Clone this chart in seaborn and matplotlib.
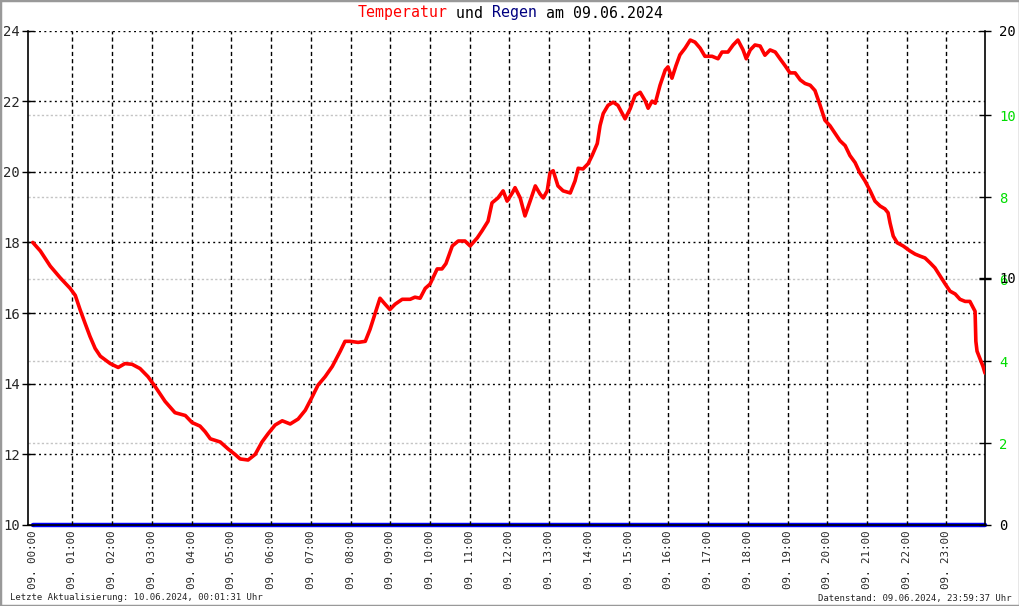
import matplotlib
matplotlib.use("Agg")
import matplotlib.pyplot as plt
from matplotlib.patches import Rectangle
import seaborn as sns
import pandas as pd

# ---------------- data ----------------
hours = [0.00, 0.19, 0.44, 0.69, 0.94, 1.07, 1.19, 1.32, 1.44, 1.57, 1.70, 1.95, 2.15, 2.32,
         2.50, 2.70, 2.90, 3.08, 3.33, 3.58, 3.84, 4.01, 4.21, 4.34, 4.47, 4.72, 4.92, 5.09,
         5.22, 5.42, 5.60, 5.77, 5.92, 6.10, 6.28, 6.48, 6.68, 6.86, 7.03, 7.18, 7.36, 7.54,
         7.74, 7.86, 7.99, 8.19, 8.37, 8.49, 8.62, 8.74, 8.87, 8.99, 9.12, 9.30, 9.50, 9.62,
         9.75, 9.88, 10.00, 10.18, 10.30, 10.40, 10.56, 10.71, 10.88, 11.01, 11.19, 11.31,
         11.46, 11.56, 11.71, 11.84, 11.94, 12.07, 12.14, 12.27, 12.39, 12.52, 12.65, 12.77,
         12.85, 12.95, 13.02, 13.10, 13.22, 13.35, 13.53, 13.65, 13.73, 13.85, 13.98, 14.08,
         14.21, 14.28, 14.36, 14.48, 14.61, 14.73, 14.91, 15.04, 15.16, 15.29, 15.42, 15.49,
         15.59, 15.67, 15.79, 15.92, 15.99, 16.09, 16.19, 16.29, 16.42, 16.55, 16.67, 16.80,
         16.92, 17.10, 17.25, 17.35, 17.50, 17.63, 17.75, 17.88, 17.96, 18.06, 18.18, 18.31,
         18.43, 18.56, 18.69, 18.81, 18.94, 19.06, 19.19, 19.32, 19.44, 19.57, 19.69, 19.82,
         19.94, 20.07, 20.20, 20.32, 20.45, 20.57, 20.70, 20.82, 20.95, 21.08, 21.20, 21.33,
         21.45, 21.53, 21.58, 21.66, 21.76, 21.91, 22.08, 22.21, 22.34, 22.46, 22.59, 22.71,
         22.84, 22.97, 23.09, 23.22, 23.34, 23.47, 23.59, 23.65, 23.72, 23.74, 23.77, 23.84,
         23.92, 23.97]
temperature = [18.0, 17.76, 17.33, 17.0, 16.7, 16.5, 16.1, 15.7, 15.34, 15.0, 14.78, 14.57,
               14.46, 14.57, 14.55, 14.43, 14.2, 13.92, 13.5, 13.18, 13.1, 12.9, 12.8, 12.64,
               12.44, 12.35, 12.15, 12.0, 11.87, 11.84, 12.0, 12.35, 12.58, 12.83, 12.95, 12.86,
               13.0, 13.25, 13.62, 13.96, 14.2, 14.49, 14.92, 15.2, 15.2, 15.17, 15.2, 15.54,
               16.0, 16.42, 16.25, 16.1, 16.25, 16.39, 16.39, 16.45, 16.42, 16.7, 16.82, 17.25,
               17.25, 17.4, 17.9, 18.04, 18.04, 17.9, 18.13, 18.33, 18.6, 19.12, 19.26, 19.46,
               19.17, 19.4, 19.55, 19.26, 18.75, 19.17, 19.6, 19.37, 19.26, 19.46, 19.97, 20.03,
               19.6, 19.46, 19.4, 19.74, 20.1, 20.08, 20.23, 20.46, 20.8, 21.31, 21.65, 21.88,
               21.97, 21.88, 21.5, 21.79, 22.16, 22.25, 22.0, 21.8, 22.0, 21.94, 22.45, 22.88,
               22.97, 22.65, 23.0, 23.31, 23.5, 23.73, 23.67, 23.5, 23.27, 23.27, 23.2, 23.39,
               23.39, 23.59, 23.73, 23.45, 23.2, 23.45, 23.59, 23.56, 23.3, 23.45, 23.39, 23.2,
               23.0, 22.8, 22.8, 22.6, 22.5, 22.45, 22.3, 21.88, 21.46, 21.3, 21.08, 20.88,
               20.74, 20.46, 20.26, 19.97, 19.74, 19.46, 19.17, 19.03, 18.95, 18.84, 18.55,
               18.18, 17.99, 17.9, 17.76, 17.67, 17.61, 17.56, 17.42, 17.28, 17.05, 16.82,
               16.62, 16.54, 16.39, 16.33, 16.33, 16.2, 16.05, 15.2, 14.92, 14.72, 14.49, 14.3]
rain_hours = [0.0, 23.97]
rain = [0.0, 0.0]

hour_ticks = list(range(24))
hour_labels = [f"09. {h:02d}:00" for h in hour_ticks]
temp_ticks = [10, 12, 14, 16, 18, 20, 22, 24]
rain_ticks = [2, 4, 6, 8, 10]
scale_ticks = [0, 10, 20]

title_parts = [("Temperatur", "#ff0000"), (" und ", "#000000"),
               ("Regen", "#000080"), (" am 09.06.2024", "#000000")]
footer_left = "Letzte Aktualisierung: 10.06.2024, 00:01:31 Uhr"
footer_right = "Datenstand: 09.06.2024, 23:59:37 Uhr"

# ---------------- style ----------------
sns.set_style("white")
plt.rcParams["font.family"] = ["DejaVu Sans Mono"]
MONO = "DejaVu Sans Mono"

W, H = 1020, 606
fig = plt.figure(figsize=(W / 100, H / 100), dpi=100)
fig.patch.set_facecolor("white")

ax_l, ax_r, ax_t, ax_b = 28, 985, 30.5, 525
ax = fig.add_axes([ax_l / W, (H - ax_b) / H, (ax_r - ax_l) / W, (ax_b - ax_t) / H])

# right axes
ax2 = ax.twinx()   # rain (green labels)
ax3 = ax.twinx()   # 0/10/20 scale
ax.set_zorder(ax3.get_zorder() + 1)
ax.patch.set_visible(False)

df_t = pd.DataFrame({"h": hours, "t": temperature})
sns.lineplot(data=df_t, x="h", y="t", ax=ax, color="#ff0000", linewidth=2.6,
             estimator=None, sort=False)
df_r = pd.DataFrame({"h": rain_hours, "r": rain})
sns.lineplot(data=df_r, x="h", y="r", ax=ax2, color="#0000ff", linewidth=3.2,
             estimator=None, sort=False, clip_on=False)

ax.set_xlim(-0.12, 23.97)
ax.set_ylim(10, 24)
ax2.set_ylim(0, 12.07)
ax3.set_ylim(0, 20)

for a in (ax, ax2, ax3):
    a.set_xlabel("")
    a.set_ylabel("")
    for s in a.spines.values():
        s.set_visible(False)

ax.spines["left"].set_visible(True)
ax.spines["bottom"].set_visible(True)
ax.spines["left"].set_color("black")
ax.spines["bottom"].set_color("black")
ax.spines["left"].set_linewidth(1.2)
ax.spines["bottom"].set_linewidth(1.2)
ax3.spines["right"].set_visible(True)
ax3.spines["right"].set_color("black")
ax3.spines["right"].set_linewidth(1.2)

# left ticks + dotted grid
ax.set_yticks(temp_ticks)
ax.set_yticklabels([str(v) for v in temp_ticks], fontsize=10, family=MONO)
ax.tick_params(axis="y", direction="inout", length=8, width=1, color="black", pad=2)
for v in temp_ticks[1:]:
    ax.axhline(v, color="black", lw=1.0, ls=(0, (1.4, 2.4)), zorder=0.5)

# x ticks + dashed vertical grid
ax.set_xticks(hour_ticks)
ax.set_xticklabels(hour_labels, rotation=90, fontsize=7.8, family=MONO, va="top", ha="center")
ax.tick_params(axis="x", length=0, pad=4)
for h in hour_ticks[1:]:
    ax.axvline(h, color="black", lw=1.0, ls=(0, (3.0, 2.2)), zorder=0.5)

# rain axis: green labels and grey dashed grid
ax2.set_yticks(rain_ticks)
ax2.set_yticklabels([str(v) for v in rain_ticks], fontsize=10, family=MONO, color="#00dd00")
ax2.tick_params(axis="y", direction="inout", length=8, width=1, color="black", pad=6)
ax2.tick_params(axis="x", bottom=False, labelbottom=False)
for v in rain_ticks:
    ax2.axhline(v, color="#c4c4c4", lw=1.0, ls=(0, (1.6, 1.6)), zorder=0.5)

# black 0/10/20 scale
ax3.set_yticks(scale_ticks)
ax3.set_yticklabels([str(v) for v in scale_ticks], fontsize=10, family=MONO, color="black")
ax3.tick_params(axis="y", direction="inout", length=8, width=1, color="black", pad=6)
ax3.tick_params(axis="x", bottom=False, labelbottom=False)

# title (multi-coloured, monospace)
fs_title = 10.7
cw = 0.602 * fs_title * 100 / 72  # pixel width of one monospace char
total = sum(len(p) for p, _ in title_parts)
x0 = 510 - total * cw / 2
pos = 0
for txt, col in title_parts:
    fig.text((x0 + pos * cw) / W, 1 - 13 / H, txt, color=col, fontsize=fs_title,
             family=MONO, ha="left", va="center")
    pos += len(txt)

# footers
fig.text(10 / W, 1 - 598 / H, footer_left, fontsize=6.5, family=MONO, ha="left", va="center")
fig.text(1012 / W, 1 - 598 / H, footer_right, fontsize=6.5, family=MONO, ha="right", va="center")

# grey frame
fig.patches.append(Rectangle((0, 0), 1, 1, transform=fig.transFigure, fill=False,
                             edgecolor="#999999", lw=2.5))

fig.savefig("out.png", dpi=100)
